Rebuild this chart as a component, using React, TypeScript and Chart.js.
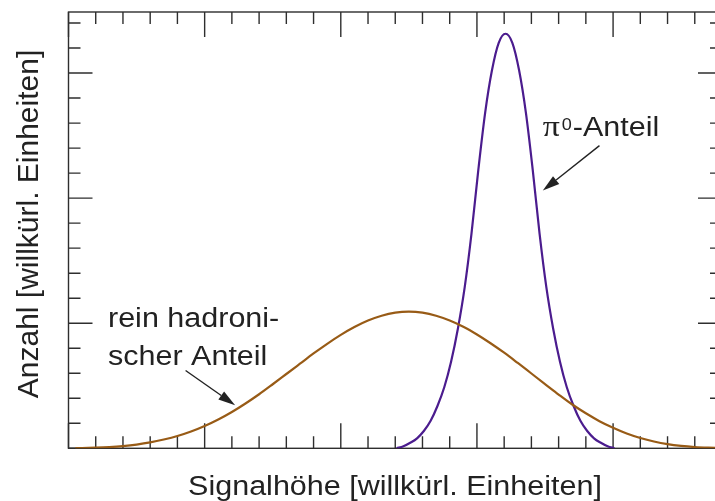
import React, { useEffect, useRef } from "react";
import { Chart, registerables } from "chart.js";

Chart.register(...registerables);

// Broad hadronic component (x in signal units, y in count units)
const hadronX = [0.25, 0.5, 1, 1.5, 2, 2.5, 3, 3.5, 4, 4.5, 5, 5.5, 6, 6.5, 7, 7.5, 8, 8.5, 9, 9.5, 10, 10.5, 11, 11.5, 12, 12.5, 13, 13.5, 14, 14.5, 15, 15.5, 16, 16.5, 17, 17.5, 18, 18.5, 19, 19.5, 20, 20.5, 21, 21.5, 22, 22.5, 23, 23.5, 24, 24.5];
const hadronY = [0.0, 0.01, 0.025, 0.05, 0.09, 0.15, 0.235, 0.35, 0.49, 0.67, 0.89, 1.15, 1.45, 1.79, 2.16, 2.56, 2.97, 3.38, 3.79, 4.177, 4.534, 4.847, 5.107, 5.3, 5.42, 5.46, 5.42, 5.3, 5.11, 4.86, 4.55, 4.2, 3.82, 3.41, 2.99, 2.57, 2.15, 1.75, 1.4, 1.085, 0.82, 0.59, 0.41, 0.27, 0.165, 0.095, 0.05, 0.025, 0.01, 0.0];

// Narrow pi0 component
const pionX = [12.05, 12.3, 12.55, 12.8, 13.05, 13.3, 13.55, 13.8, 14.05, 14.3, 14.55, 14.8, 15.05, 15.3, 15.55, 15.8, 16.05, 16.3, 16.55, 16.8, 17.05, 17.3, 17.55, 17.8, 18.05, 18.3, 18.55, 18.8, 19.05, 19.3, 19.55, 19.8, 20.05];
const pionY = [0, 0.08, 0.22, 0.4, 0.69, 1.1, 1.69, 2.44, 3.46, 4.78, 6.43, 8.58, 11.12, 13.4, 15.1, 16.21, 16.57, 16.21, 15.1, 13.4, 11.12, 8.58, 6.43, 4.78, 3.46, 2.44, 1.69, 1.1, 0.69, 0.4, 0.22, 0.08, 0];

// Axis tick values (no labels shown)
const xTicks = [0, 1, 2, 3, 4, 5, 6, 7, 8, 9, 10, 11, 12, 13, 14, 15, 16, 17, 18, 19, 20, 21, 22, 23, 24];
const xMajorTicks = [0, 5, 10, 15, 20];
const yTicks = [0, 1, 2, 3, 4, 5, 6, 7, 8, 9, 10, 11, 12, 13, 14, 15, 16, 17];
const yMajorTicks = [0, 5, 10, 15];

const xTitle = "Signalhöhe [willkürl. Einheiten]";
const yTitle = "Anzahl [willkürl. Einheiten]";
const hadronLabel = ["rein hadroni-", "scher Anteil"];
const pionLabel = "-Anteil";

const INK = "#222222";
const FRAME = "#2e2e2e";
const SANS = '"Liberation Sans", Arial, Helvetica, sans-serif';
const STRETCH = 1.13;

function arrow(ctx: CanvasRenderingContext2D, x1: number, y1: number, x2: number, y2: number) {
  const ang = Math.atan2(y2 - y1, x2 - x1);
  const len = 17;
  const hw = 5;
  const bx = x2 - len * Math.cos(ang);
  const by = y2 - len * Math.sin(ang);
  ctx.beginPath();
  ctx.moveTo(x1, y1);
  ctx.lineTo(bx, by);
  ctx.stroke();
  ctx.beginPath();
  ctx.moveTo(x2, y2);
  ctx.lineTo(bx + hw * Math.sin(ang), by - hw * Math.cos(ang));
  ctx.lineTo(bx - hw * Math.sin(ang), by + hw * Math.cos(ang));
  ctx.closePath();
  ctx.fill();
}

function stretchedText(ctx: CanvasRenderingContext2D, text: string, x: number, y: number, align: CanvasTextAlign) {
  ctx.save();
  ctx.translate(x, y);
  ctx.scale(STRETCH, 1);
  ctx.textAlign = align;
  ctx.textBaseline = "alphabetic";
  ctx.fillText(text, 0, 0);
  ctx.restore();
}

const framePlugin = {
  id: "frameTicks",
  beforeDatasetsDraw(chart: any) {
    const { ctx, chartArea, scales } = chart;
    const { left, top, right, bottom } = chartArea;
    const xs = scales.x;
    const ys = scales.y;
    ctx.save();
    ctx.strokeStyle = FRAME;
    ctx.lineWidth = 1.4;
    ctx.strokeRect(left, top, right - left, bottom - top);
    ctx.beginPath();
    for (const v of xTicks) {
      const px = xs.getPixelForValue(v);
      const len = xMajorTicks.includes(v) ? 25 : 12;
      ctx.moveTo(px, bottom);
      ctx.lineTo(px, bottom - len);
      ctx.moveTo(px, top);
      ctx.lineTo(px, top + len);
    }
    for (const v of yTicks) {
      const py = ys.getPixelForValue(v);
      const len = yMajorTicks.includes(v) ? 24 : 12;
      ctx.moveTo(left, py);
      ctx.lineTo(left + len, py);
      ctx.moveTo(right, py);
      ctx.lineTo(right - len, py);
    }
    ctx.stroke();
    ctx.restore();
  },
  afterDraw(chart: any) {
    const { ctx, scales } = chart;
    const xs = scales.x;
    const ys = scales.y;
    ctx.save();
    ctx.fillStyle = INK;
    ctx.strokeStyle = INK;
    // axis titles
    ctx.font = `27px ${SANS}`;
    stretchedText(ctx, xTitle, 395, 494.5, "center");
    ctx.save();
    ctx.translate(38, 224);
    ctx.rotate(-Math.PI / 2);
    ctx.font = `30px ${SANS}`;
    ctx.textAlign = "center";
    ctx.textBaseline = "alphabetic";
    ctx.fillText(yTitle, 0, 0);
    ctx.restore();

    // hadronic label
    ctx.font = `27px ${SANS}`;
    stretchedText(ctx, hadronLabel[0], xs.getPixelForValue(1.45), ys.getPixelForValue(4.84), "left");
    stretchedText(ctx, hadronLabel[1], xs.getPixelForValue(1.45), ys.getPixelForValue(3.33), "left");
    ctx.lineWidth = 1.4;
    arrow(ctx, xs.getPixelForValue(4.3), ys.getPixelForValue(3.11), xs.getPixelForValue(6.12), ys.getPixelForValue(1.72));

    // pi0 label
    const px0 = xs.getPixelForValue(17.42);
    const pyb = ys.getPixelForValue(12.5);
    ctx.font = `30px "Liberation Serif", "DejaVu Serif", serif`;
    stretchedText(ctx, "π", px0, pyb, "left");
    ctx.font = `16px ${SANS}`;
    stretchedText(ctx, "0", px0 + 19, pyb - 5.5, "left");
    ctx.font = `27px ${SANS}`;
    stretchedText(ctx, pionLabel, px0 + 30, pyb, "left");
    arrow(ctx, xs.getPixelForValue(19.5), ys.getPixelForValue(12.1), xs.getPixelForValue(17.42), ys.getPixelForValue(10.3));
    ctx.restore();
  },
};

export default function App() {
  const ref = useRef<HTMLCanvasElement | null>(null);
  useEffect(() => {
    if (!ref.current) return;
    const chart = new Chart(ref.current, {
      type: "line",
      data: {
        datasets: [
          {
            label: "hadronisch",
            data: hadronX.map((x, i) => ({ x, y: hadronY[i] })),
            borderColor: "#985b16",
            borderWidth: 2.2,
            pointRadius: 0,
            cubicInterpolationMode: "monotone",
            fill: false,
          },
          {
            label: "pi0",
            data: pionX.map((x, i) => ({ x, y: pionY[i] })),
            borderColor: "#4b1c8e",
            borderWidth: 2.2,
            pointRadius: 0,
            cubicInterpolationMode: "monotone",
            fill: false,
          },
        ],
      },
      options: {
        animation: false,
        responsive: false,
        devicePixelRatio: 1,
        layout: { padding: { left: 68.5, top: 12, right: 8, bottom: 52.7 } },
        plugins: { legend: { display: false }, tooltip: { enabled: false }, title: { display: false } },
        scales: {
          x: { type: "linear", min: 0, max: 24, display: false },
          y: { type: "linear", min: 0, max: 17.44, display: false },
        },
      },
      plugins: [framePlugin],
    });
    return () => chart.destroy();
  }, []);
  return (
    <div style={{ position: "fixed", left: 0, top: 0, width: 715, height: 501, overflow: "hidden", background: "#fff" }}>
      <canvas ref={ref} width={730} height={501} style={{ display: "block" }} />
    </div>
  );
}
